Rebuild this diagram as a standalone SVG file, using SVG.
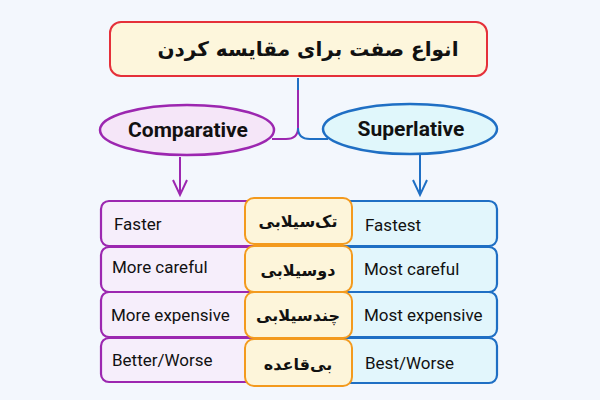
<svg xmlns="http://www.w3.org/2000/svg" width="600" height="400" viewBox="0 0 600 400">
<defs>
<style>
.en{font-family:Roboto,"Liberation Sans",sans-serif;fill:#111;}
.fa{font-family:"DejaVu Sans",sans-serif;font-weight:bold;fill:#111;direction:rtl;}
.lbox{fill:#f6eefb;stroke:#9c27b0;stroke-width:2.2;}
.rbox{fill:#e2f6fc;stroke:#1f6fc4;stroke-width:2.2;}
.mbox{fill:#fdf5da;stroke:#f39a1e;stroke-width:2;}
.cell{font-size:17px;}
.mid{font-size:16px;text-anchor:middle;}
</style>
</defs>
<rect width="600" height="400" fill="#f3f7fd"/>
<g id="connectors" fill="none" stroke-width="2">
<path d="M298,78 V128 Q298,139 286,139 H272" stroke="#9c27b0"/>
<path d="M298,128 Q298,139 310,139 H328" stroke="#1f6fc4"/>
<path d="M298,78 V90" stroke="#1f6fc4"/>
<path d="M180,157 V195" stroke="#9c27b0"/>
<path d="M173,180 L180,195 L187,180" stroke="#9c27b0"/>
<path d="M420,155 V195" stroke="#1f6fc4"/>
<path d="M413,180 L420,195 L427,180" stroke="#1f6fc4"/>
</g>
<g id="title">
<rect x="110" y="22" width="377" height="54" rx="11" fill="#fdf6dc" stroke="#e5303a" stroke-width="2"/>
<text class="fa" x="308" y="56" font-size="20" text-anchor="middle">انواع صفت برای مقایسه کردن</text>
</g>
<g id="comparative">
<ellipse cx="187" cy="130" rx="87" ry="25" fill="#f5e6f8" stroke="#9c27b0" stroke-width="2.5"/>
<text class="en" x="188" y="137" font-size="21" font-weight="bold" text-anchor="middle">Comparative</text>
</g>
<g id="superlative">
<ellipse cx="410" cy="129" rx="87" ry="25" fill="#e0f7fb" stroke="#1f6fc4" stroke-width="2.5"/>
<text class="en" x="411" y="136" font-size="21" font-weight="bold" text-anchor="middle">Superlative</text>
</g>
<g id="left-1"><rect class="lbox" x="101" y="201" width="170" height="45" rx="8"/><text class="en cell" x="114" y="230">Faster</text></g>
<g id="left-2"><rect class="lbox" x="101" y="247" width="170" height="45" rx="8"/><text class="en cell" x="112" y="273">More careful</text></g>
<g id="left-3"><rect class="lbox" x="101" y="292" width="170" height="45" rx="8"/><text class="en cell" x="111" y="321">More expensive</text></g>
<g id="left-4"><rect class="lbox" x="101" y="338" width="170" height="44" rx="8"/><text class="en cell" x="112" y="366">Better/Worse</text></g>
<g id="right-1"><rect class="rbox" x="327" y="201" width="170" height="45" rx="8"/><text class="en cell" x="365" y="231">Fastest</text></g>
<g id="right-2"><rect class="rbox" x="327" y="247" width="170" height="45" rx="8"/><text class="en cell" x="364" y="275">Most careful</text></g>
<g id="right-3"><rect class="rbox" x="327" y="292" width="170" height="45" rx="8"/><text class="en cell" x="364" y="321">Most expensive</text></g>
<g id="right-4"><rect class="rbox" x="327" y="338" width="170" height="45" rx="8"/><text class="en cell" x="365" y="369">Best/Worse</text></g>
<g id="mid-1"><rect class="mbox" x="245" y="198" width="107" height="46" rx="9"/><text class="fa mid" x="298" y="227">تک‌سیلابی</text></g>
<g id="mid-2"><rect class="mbox" x="245" y="246" width="107" height="46" rx="9"/><text class="fa mid" x="298" y="276">دوسیلابی</text></g>
<g id="mid-3"><rect class="mbox" x="245" y="292" width="107" height="46" rx="9"/><text class="fa mid" x="298" y="321">چندسیلابی</text></g>
<g id="mid-4"><rect class="mbox" x="245" y="339" width="107" height="47" rx="9"/><text class="fa mid" x="298" y="370">بی‌قاعده</text></g>
</svg>
